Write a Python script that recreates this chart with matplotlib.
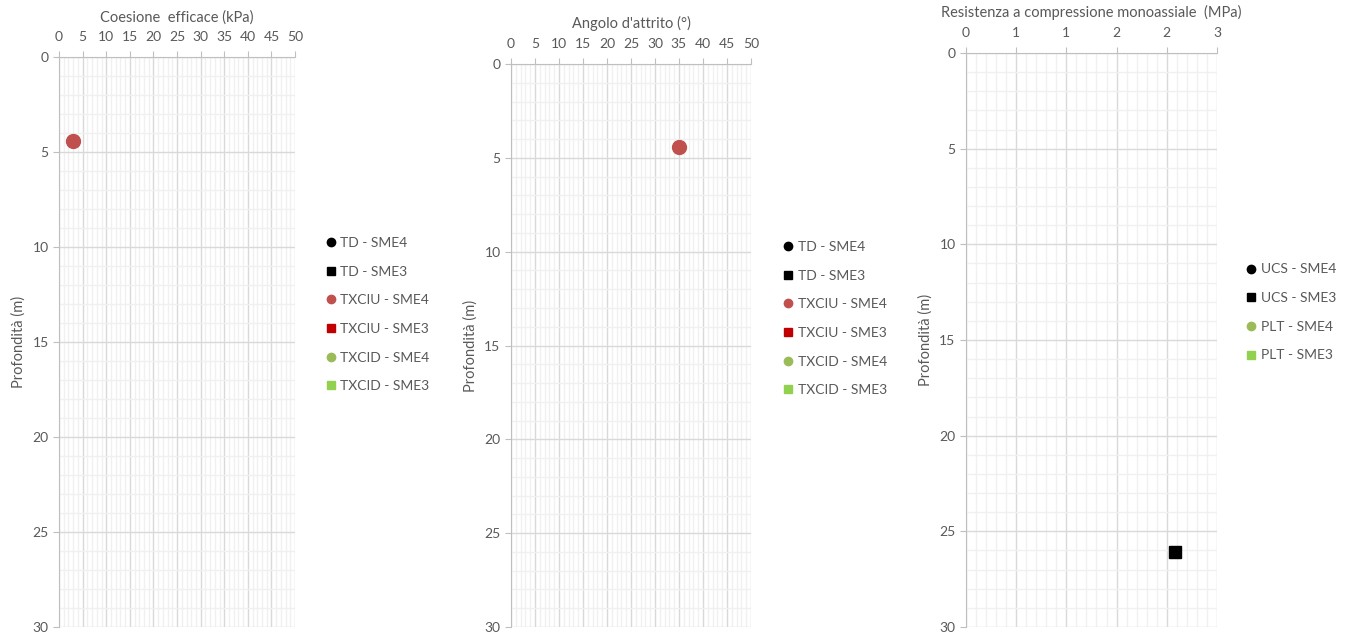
import matplotlib.pyplot as plt
from matplotlib.ticker import MultipleLocator, FuncFormatter

plt.rcParams['font.family'] = ['Lato', 'DejaVu Sans']

grey = '#595959'

# chart 1 - coesione efficace (kPa) vs depth (m)
coes_series = ['TD - SME4', 'TD - SME3', 'TXCIU - SME4', 'TXCIU - SME3', 'TXCID - SME4', 'TXCID - SME3']
coes_x = [[], [], [3.0], [], [], []]
coes_z = [[], [], [4.4], [], [], []]

# chart 2 - angolo d'attrito (deg)
phi_series = ['TD - SME4', 'TD - SME3', 'TXCIU - SME4', 'TXCIU - SME3', 'TXCID - SME4', 'TXCID - SME3']
phi_x = [[], [], [35.0], [], [], []]
phi_z = [[], [], [4.4], [], [], []]

# chart 3 - resistenza a compressione monoassiale (MPa)
ucs_series = ['UCS - SME4', 'UCS - SME3', 'PLT - SME4', 'PLT - SME3']
ucs_x = [[], [2.5], [], []]
ucs_z = [[], [26.1], [], []]

styles6 = [('o', '#000000'), ('s', '#000000'), ('o', '#C0504D'),
           ('s', '#C00000'), ('o', '#9BBB59'), ('s', '#92D050')]
styles4 = [('o', '#000000'), ('s', '#000000'), ('o', '#9BBB59'), ('s', '#92D050')]

fig = plt.figure(figsize=(13.45, 6.34), dpi=100)


def setup(ax, xmax, xmajor, xminor, title, fmt=None):
    ax.set_xlim(0, xmax)
    ax.set_ylim(30, 0)
    ax.xaxis.tick_top()
    ax.xaxis.set_label_position('top')
    ax.xaxis.set_major_locator(MultipleLocator(xmajor))
    ax.xaxis.set_minor_locator(MultipleLocator(xminor))
    ax.yaxis.set_major_locator(MultipleLocator(5))
    ax.yaxis.set_minor_locator(MultipleLocator(1))
    if fmt:
        ax.xaxis.set_major_formatter(FuncFormatter(fmt))
    ax.grid(which='major', color='#D9D9D9', lw=1)
    ax.grid(which='minor', color='#F0F0F0', lw=1)
    ax.set_axisbelow(True)
    for s in ax.spines.values():
        s.set_visible(False)
    ax.spines['top'].set_visible(True)
    ax.spines['left'].set_visible(True)
    ax.spines['top'].set_color('#BFBFBF')
    ax.spines['left'].set_color('#BFBFBF')
    ax.tick_params(which='major', colors='#BFBFBF', labelcolor=grey, labelsize=10, length=4)
    ax.tick_params(axis='x', which='major', pad=6)
    ax.tick_params(which='minor', length=0)
    ax.set_xlabel(title, color=grey, fontsize=10.5, labelpad=7)
    ax.set_ylabel('Profondità (m)', color=grey, fontsize=10.5, labelpad=5)


def add_legend(ax, x):
    ax.legend(loc='center left', bbox_to_anchor=(x, 0.548), frameon=False, fontsize=10,
              labelcolor=grey, markerscale=0.6, handlelength=0.6, handletextpad=0.4,
              labelspacing=1.2)


ax1 = fig.add_axes([0.0439, 0.011, 0.1755, 0.899])
for name, xs, zs, (m, c) in zip(coes_series, coes_x, coes_z, styles6):
    ax1.plot(xs, zs, ls='none', marker=m, color=c, ms=10 if m == 'o' else 8.5, label=name, clip_on=False)
setup(ax1, 50, 5, 1, 'Coesione  efficace (kPa)')
add_legend(ax1, 1.08)

ax2 = fig.add_axes([0.3799, 0.011, 0.1784, 0.888])
for name, xs, zs, (m, c) in zip(phi_series, phi_x, phi_z, styles6):
    ax2.plot(xs, zs, ls='none', marker=m, color=c, ms=10 if m == 'o' else 8.5, label=name, clip_on=False)
setup(ax2, 50, 5, 1, "Angolo d'attrito (°)")
add_legend(ax2, 1.085)

ax3 = fig.add_axes([0.7182, 0.011, 0.1866, 0.9054])
for name, xs, zs, (m, c) in zip(ucs_series, ucs_x, ucs_z, styles4):
    ax3.plot(xs, zs, ls='none', marker=m, color=c, ms=10 if m == 'o' else 8.5, label=name, clip_on=False)
setup(ax3, 3, 0.6, 0.12, 'Resistenza a compressione monoassiale  (MPa)', fmt=lambda v, p: '{:.0f}'.format(v))
add_legend(ax3, 1.07)

fig.savefig('out.png', dpi=100)
